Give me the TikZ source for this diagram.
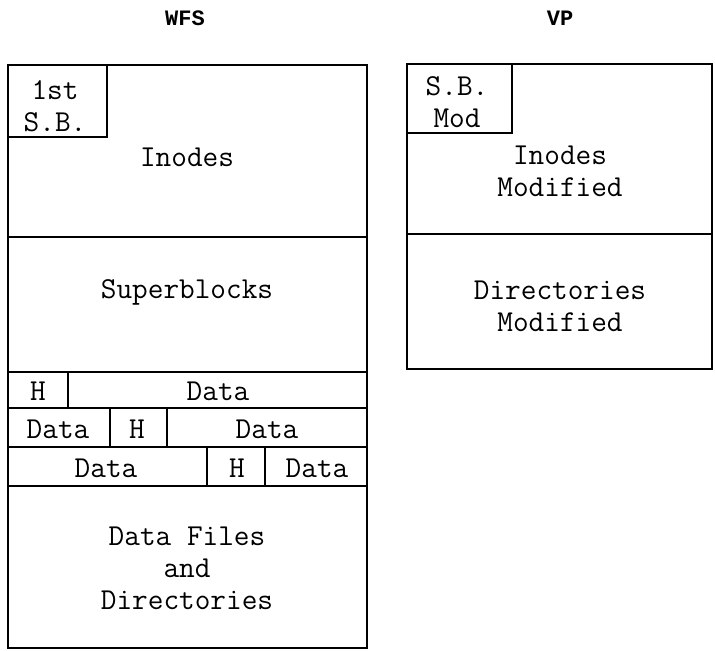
\documentclass[tikz,border=0pt]{standalone}
\usepackage{fontspec}
\newfontfamily\headfont{Liberation Mono}
\tikzset{
    heading/.style = {
        font=\headfont\bfseries\fontsize{11}{13}\selectfont,
        inner sep=0pt,
        },
    cell text/.style = {
        font=\ttfamily\fontsize{15.2}{16}\selectfont,
        align=center,
        inner sep=0pt,
        },
    cell/.style = {
        draw,
        line width=1pt,
        },
}
\begin{document}
\begin{tikzpicture}[x=0.5pt, y=-0.5pt]
    \useasboundingbox (0,0) rectangle (715,650);

    % titles
    \node[heading] (wfs) at (185,18) {WFS};
    \node[heading] (vp) at (560,18) {VP};

    % WFS column
    \draw[cell] (8,65) rectangle (367,237);
    \draw[cell] (8,65) rectangle (107,137);
    \draw[cell] (8,237) rectangle (367,372);
    \draw[cell] (8,372) rectangle (68,408);
    \draw[cell] (68,372) rectangle (367,408);
    \draw[cell] (8,408) rectangle (110,447);
    \draw[cell] (110,408) rectangle (167,447);
    \draw[cell] (167,408) rectangle (367,447);
    \draw[cell] (8,447) rectangle (207,486);
    \draw[cell] (207,447) rectangle (265,486);
    \draw[cell] (265,447) rectangle (367,486);
    \draw[cell] (8,486) rectangle (367,648);

    \node[cell text] (sb1) at (55,106) {1st\\S.B.};
    \node[cell text] (inodes) at (187,157) {Inodes};
    \node[cell text] (superblocks) at (187,292) {Superblocks};
    \node[cell text] (h1) at (38,391) {H};
    \node[cell text] (d1) at (218,391) {Data};
    \node[cell text] (d2) at (58,429) {Data};
    \node[cell text] (h2) at (137,429) {H};
    \node[cell text] (d3) at (267,429) {Data};
    \node[cell text] (d4) at (106,468) {Data};
    \node[cell text] (h3) at (237,468) {H};
    \node[cell text] (d5) at (317,468) {Data};
    \node[cell text] (files) at (187,568) {Data Files\\and\\Directories};

    % VP column
    \draw[cell] (407,64) rectangle (712,234);
    \draw[cell] (407,64) rectangle (512,133);
    \draw[cell] (407,234) rectangle (712,369);

    \node[cell text] (sbmod) at (457,102) {S.B.\\Mod};
    \node[cell text] (inmod) at (560,171) {Inodes\\Modified};
    \node[cell text] (dirmod) at (560,306) {Directories\\Modified};
\end{tikzpicture}
\end{document}
